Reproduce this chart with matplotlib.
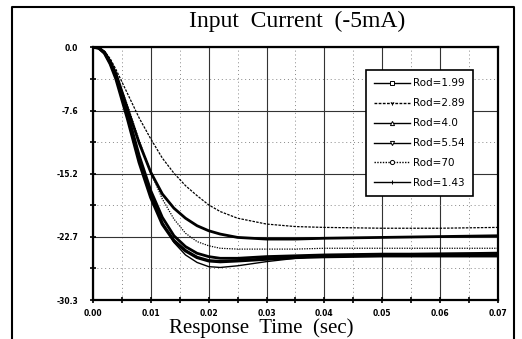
import matplotlib
matplotlib.use("Agg")
import matplotlib.pyplot as plt
from matplotlib.lines import Line2D
from matplotlib.ticker import MultipleLocator, FixedLocator

# time axis (sec)
t = [0, 0.001, 0.002, 0.003, 0.004, 0.006, 0.008, 0.010, 0.012, 0.014, 0.016, 0.018,
     0.020, 0.022, 0.025, 0.03, 0.035, 0.04, 0.05, 0.06, 0.07]

# input current response for each Rod value
rod_199 = [0, -0.1, -0.6, -1.7, -3.2, -7.4, -11.5, -15.0, -17.6, -19.3, -20.5, -21.4,
           -22.0, -22.4, -22.8, -23.0, -23.0, -22.9, -22.8, -22.7, -22.6]
rod_289 = [0, -0.1, -0.5, -1.4, -2.7, -5.6, -8.5, -11.0, -13.3, -15.1, -16.6, -17.8,
           -18.9, -19.7, -20.5, -21.2, -21.5, -21.6, -21.7, -21.7, -21.6]
rod_40 = [0, -0.1, -0.7, -1.9, -3.6, -8.0, -13.0, -17.2, -20.4, -22.6, -23.9, -24.7,
          -25.1, -25.3, -25.3, -25.1, -25.0, -24.9, -24.8, -24.8, -24.8]
rod_554 = [0, -0.1, -0.7, -1.9, -3.7, -8.2, -13.2, -17.6, -21.0, -23.4, -24.9, -25.8,
           -26.3, -26.4, -26.2, -25.7, -25.3, -25.0, -24.8, -24.7, -24.6]
rod_70 = [0, -0.1, -0.6, -1.7, -3.3, -7.0, -11.2, -15.0, -18.2, -20.6, -22.3, -23.3,
          -23.8, -24.1, -24.2, -24.2, -24.2, -24.1, -24.1, -24.1, -24.1]
rod_143 = [0, -0.1, -0.7, -2.0, -3.8, -8.6, -13.8, -18.0, -21.2, -23.2, -24.4, -25.2,
           -25.6, -25.7, -25.6, -25.4, -25.2, -25.1, -25.0, -25.0, -25.0]

labels = ["Rod=1.99", "Rod=2.89", "Rod=4.0", "Rod=5.54", "Rod=70", "Rod=1.43"]
yticks = [0.0, -7.6, -15.2, -22.7, -30.3]
xticks = [0.00, 0.01, 0.02, 0.03, 0.04, 0.05, 0.06, 0.07]

series = [rod_199, rod_289, rod_40, rod_554, rod_70, rod_143]
widths = [2.0, 0.9, 2.0, 1.0, 0.9, 2.4]
styles = ["-", (0, (2, 1)), "-", "-", (0, (1, 1)), "-"]
markers = ["s", "1", "^", "v", "o", "+"]

fig = plt.figure(figsize=(5.22, 3.39), dpi=100)
ax = fig.add_axes([0.178, 0.115, 0.776, 0.746])

for y, lw, ls in zip(series, widths, styles):
    ax.plot(t, y, color="black", lw=lw, ls=ls)

ax.set_xlim(0, 0.07)
ax.set_ylim(-30.3, 0)
ax.set_yticks(yticks)
ax.set_yticklabels(["0.0", "-7.6", "-15.2", "-22.7", "-30.3"])
ax.set_xticks(xticks)
ax.set_xticklabels(["0.00", "0.01", "0.02", "0.03", "0.04", "0.05", "0.06", "0.07"])
ax.xaxis.set_minor_locator(MultipleLocator(0.005))
ax.yaxis.set_minor_locator(FixedLocator([-3.8, -11.4, -18.95, -26.5]))

ax.grid(which="major", color="#333333", lw=0.8, ls="-")
ax.grid(which="minor", color="#888888", lw=0.7, ls=(0, (1, 3)))
ax.tick_params(which="both", direction="inout", length=5, width=1.2,
               labelsize=5.5)
ax.tick_params(axis="x", pad=4)
ax.tick_params(axis="y", pad=8)
for lab in ax.get_xticklabels() + ax.get_yticklabels():
    lab.set_fontweight("bold")
for s in ax.spines.values():
    s.set_linewidth(1.6)

handles = [Line2D([], [], color="black", lw=1.0, ls=ls, marker=m, markersize=3,
                  markerfacecolor="white", markeredgewidth=0.7)
           for ls, m in zip(styles, markers)]
leg = ax.legend(handles, labels, loc="upper right", bbox_to_anchor=(0.938, 0.909),
                borderaxespad=0, frameon=True, fancybox=False, edgecolor="black",
                framealpha=1,
                prop={"family": ["Liberation Sans Narrow", "DejaVu Sans"], "size": 7.5},
                handlelength=3.4, labelspacing=0.95, borderpad=0.8, handletextpad=0.3)
leg.get_frame().set_linewidth(1.2)

fig.text(0.569, 0.937, "Input  Current  (-5mA)", ha="center", va="center",
         fontsize=17, family="Liberation Serif")
fig.text(0.50, 0.033, "Response  Time  (sec)", ha="center", va="center",
         fontsize=15, family="Liberation Serif")

# outer frame around the chart
fig.add_artist(Line2D([0.023, 0.023, 0.985, 0.985], [0.0, 0.979, 0.979, 0.0],
                      transform=fig.transFigure, color="black", lw=1.5))

fig.savefig("out.png", dpi=100)
